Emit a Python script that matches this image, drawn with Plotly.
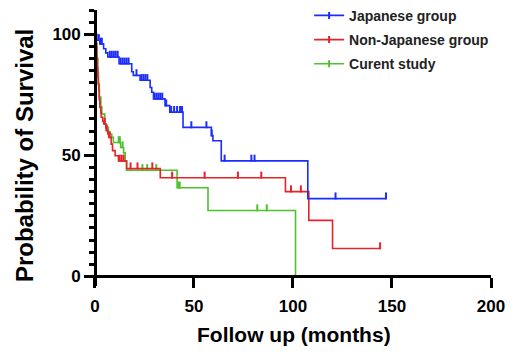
import plotly.graph_objects as go

# ---------------- data ----------------
# Japanese group
jp_event_t = [1.0, 2.5, 4.4, 5.5, 6.5, 12.2, 18.6, 19.4, 22.8, 27.9, 28.7, 29.6,
              35.4, 37.8, 44.5, 58.8, 59.6, 63.8, 107.5]
jp_event_s = [97.5, 96.0, 94.0, 92.3, 90.6, 87.8, 84.5, 83.0, 81.0, 78.0, 76.0, 73.3,
              70.5, 67.8, 61.5, 58.1, 56.0, 47.7, 32.1]
jp_end = 147.0
jp_censor = [2.0, 3.0, 3.5, 7.5, 8.5, 9.5, 10.5, 11.5, 13.0, 14.0, 15.0, 16.0, 17.0,
             21.0, 23.5, 24.5, 25.5, 26.5, 30.0, 31.0, 32.0, 33.0, 34.0, 36.0, 38.5,
             40.0, 41.5, 43.0, 44.0, 48.7, 56.3, 59.0, 65.5, 79.0, 80.6, 121.5, 147.0]

# Non-Japanese group
nj_event_t = [0.3, 0.8, 1.0, 1.2, 1.5, 1.7, 2.0, 2.2, 2.5, 3.0, 3.2, 4.0, 4.5, 5.5,
              5.7, 6.5, 7.0, 8.2, 8.9, 10.2, 11.9, 16.0, 33.0, 96.2, 108.0, 120.0]
nj_event_s = [97.0, 94.7, 90.0, 86.0, 82.0, 79.6, 76.8, 73.0, 69.8, 67.5, 65.7, 64.0,
              62.9, 61.5, 60.2, 58.8, 57.4, 54.6, 51.9, 49.8, 47.7, 44.5, 40.7, 35.0,
              23.1, 11.5]
nj_end = 144.0
nj_censor = [5.0, 6.0, 7.5, 12.5, 13.5, 14.5, 18.0, 21.5, 29.0, 39.0, 55.4, 72.2,
             84.0, 99.0, 104.0, 144.0]

# Current study
cs_event_t = [0.5, 1.0, 1.5, 1.8, 2.2, 3.0, 3.5, 5.0, 5.5, 6.8, 7.0, 8.5, 9.3, 13.0,
              14.5, 15.3, 16.0, 41.5, 57.1, 101.3]
cs_event_s = [96.0, 90.0, 84.0, 79.0, 74.0, 70.0, 67.0, 63.0, 61.5, 60.0, 58.8, 57.4,
              55.3, 53.2, 51.0, 47.5, 43.8, 36.6, 27.2, 0.0]
cs_end = 101.3
cs_censor = [12.0, 12.6, 14.0, 24.0, 26.4, 31.0, 42.2, 42.8, 82.0, 86.8]

x_ticks = [0, 50, 100, 150, 200]
y_ticks = [0, 50, 100]
x_title = "Follow up (months)"
y_title = "Probability of Survival"

groups = [
    ("Curent study", cs_event_t, cs_event_s, cs_end, cs_censor, "#4cc22c"),
    ("Non-Japanese group", nj_event_t, nj_event_s, nj_end, nj_censor, "#e3242b"),
    ("Japanese group", jp_event_t, jp_event_s, jp_end, jp_censor, "#1a2cff"),
]
legend_order = ["Japanese group", "Non-Japanese group", "Curent study"]

TICK_OFFSET = 1.1  # lift censor ticks so they sit on top of the line


def surv_at(t, ev_t, ev_s):
    s = 100.0
    for et, es in zip(ev_t, ev_s):
        if et <= t:
            s = es
    return s


fig = go.Figure()
for name, ev_t, ev_s, end, cens, col in groups:
    xs = [0.0] + ev_t + [end]
    ys = [100.0] + ev_s + [ev_s[-1]]
    fig.add_trace(go.Scatter(x=xs, y=ys, mode="lines", line=dict(color=col, width=1.6, shape="hv"),
                             showlegend=False, hoverinfo="skip"))
    cy = [surv_at(c, ev_t, ev_s) + TICK_OFFSET for c in cens]
    fig.add_trace(go.Scatter(x=cens, y=cy, mode="markers",
                             marker=dict(symbol="line-ns-open", size=5, color=col,
                                         line=dict(color=col, width=2)),
                             showlegend=False, hoverinfo="skip"))

colors = {g[0]: g[5] for g in groups}
for i, name in enumerate(legend_order):
    fig.add_trace(go.Scatter(x=[None], y=[None], mode="lines+markers", name=name,
                             legendgroup=name, legendrank=i,
                             line=dict(color=colors[name], width=1.6),
                             marker=dict(symbol="line-ns-open", size=5, color=colors[name],
                                         line=dict(color=colors[name], width=2))))

font_family = "Liberation Sans, Arial, sans-serif"
fig.update_layout(
    width=522, height=354,
    margin=dict(l=85, r=31, t=10, b=68, autoexpand=False),
    paper_bgcolor="white", plot_bgcolor="white",
    font=dict(family=font_family, color="black"),
    legend=dict(x=0.552, y=1.037, xanchor="left", yanchor="top",
                font=dict(size=14, family=font_family, weight="bold", color="#222"),
                bgcolor="rgba(0,0,0,0)", tracegroupgap=3, itemwidth=30),
    xaxis=dict(range=[-5, 200], tickvals=x_ticks, ticktext=[str(v) for v in x_ticks],
               showgrid=False, zeroline=False, showline=True, linecolor="black", linewidth=2.5,
               ticks="outside", ticklen=10, tickwidth=2.5, tickcolor="black",
               tickfont=dict(size=17, weight="bold", family=font_family),
               ticklabelstandoff=4,
               anchor="free", position=4 / 114, automargin=False),
    yaxis=dict(range=[-4, 110], tickvals=y_ticks, ticktext=[str(v) for v in y_ticks],
               showgrid=False, zeroline=False, showline=True, linecolor="black", linewidth=2.5,
               ticks="outside", ticklen=10, tickwidth=2.5, tickcolor="black",
               minor=dict(dtick=5, tick0=0, ticks="outside", ticklen=5, tickwidth=2.5,
                          tickcolor="black", showgrid=False),
               tickfont=dict(size=17, weight="bold", family=font_family),
               anchor="free", position=5 / 205, automargin=False),
    annotations=[
        dict(text=x_title, xref="paper", yref="paper", x=0.515, y=-0.174,
             xanchor="center", yanchor="middle", showarrow=False,
             font=dict(size=21, weight="bold", family=font_family, color="black")),
        dict(text=y_title, xref="paper", yref="paper", x=-0.150, y=0.471, textangle=-90,
             xanchor="center", yanchor="middle", showarrow=False,
             font=dict(size=24, weight="bold", family=font_family, color="black")),
    ],
)

fig.write_html("out.html", config={"displayModeBar": False},
               post_script="document.body.style.margin='0';")
